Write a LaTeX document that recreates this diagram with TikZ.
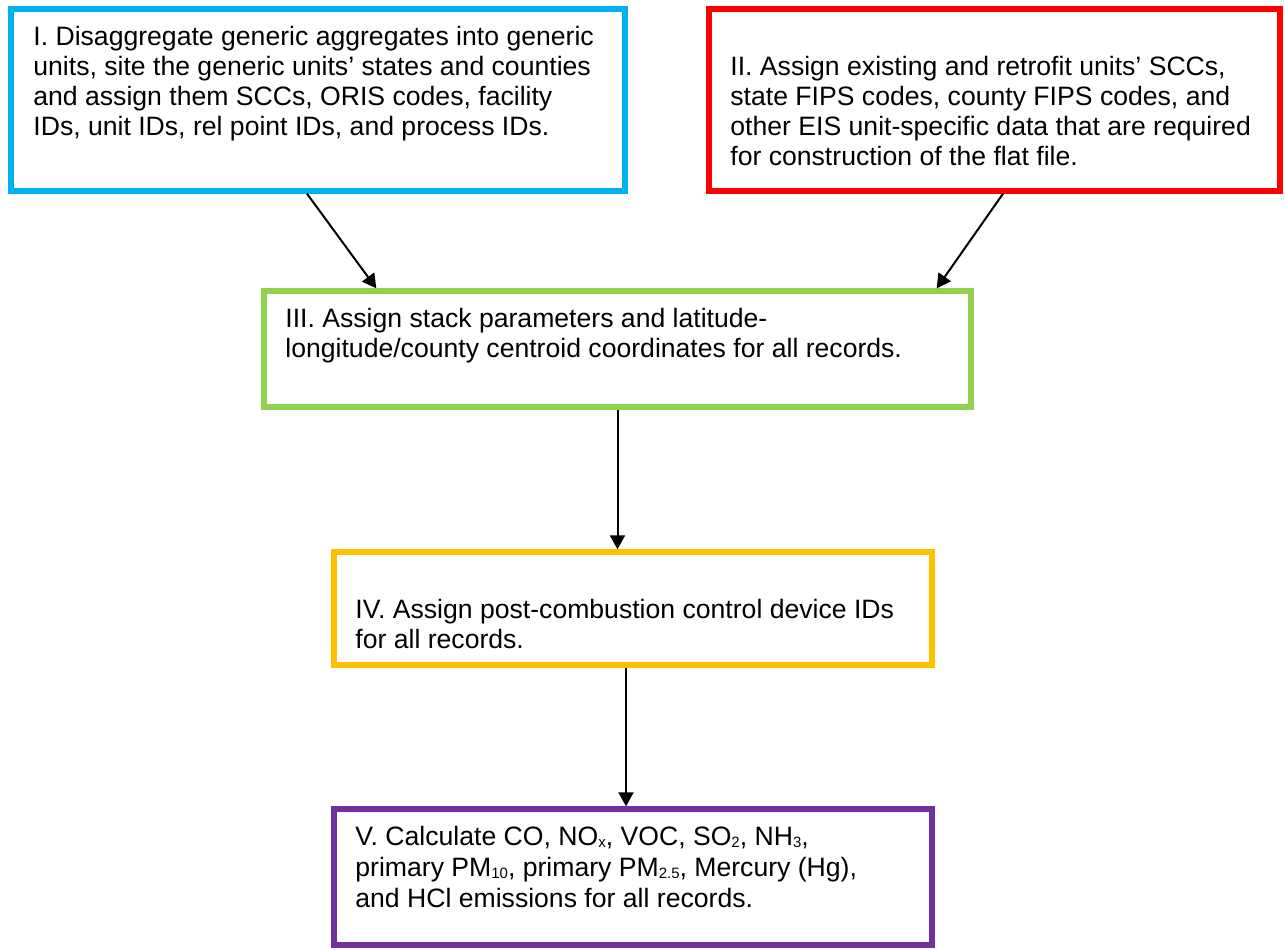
\documentclass[tikz,border=0pt]{standalone}
\usepackage{fontspec}
\setmainfont{Liberation Sans}
\usetikzlibrary{arrows.meta}

\definecolor{stepblue}{HTML}{00B0F0}
\definecolor{stepred}{HTML}{FF0000}
\definecolor{stepgreen}{HTML}{92D050}
\definecolor{stepyellow}{HTML}{FFC000}
\definecolor{steppurple}{HTML}{7030A0}
\newcommand{\chemsub}[1]{\raisebox{-0.8pt}{\fontsize{7.5}{7.5}\selectfont #1}}

\begin{document}
\begin{tikzpicture}[x=0.5pt, y=-0.5pt]
\tikzstyle{stepbox}=[rectangle, draw, line width=2.7pt, inner sep=0pt]
\tikzstyle{steptext}=[anchor=north west, inner sep=0pt, align=left, font=\fontsize{13.3}{15}\selectfont]
\tikzstyle{drawstyle}=[line width=1pt, -{Triangle[length=7pt, width=7.5pt]}]

\useasboundingbox (0,0) rectangle (1285,949);

\node[stepbox, draw=stepblue, minimum width=307pt, minimum height=91pt] (S1) at (318,100) {};
\node[steptext] (S1t) at (33,26) {I. Disaggregate generic aggregates into generic\\
units, site the generic units’ states and counties\\
and assign them SCCs, ORIS codes, facility\\
IDs, unit IDs, rel point IDs, and process IDs.};
\node[stepbox, draw=stepred, minimum width=285.5pt, minimum height=91pt] (S2) at (994.5,100) {};
\node[steptext] (S2t) at (730,56) {II. Assign existing and retrofit units’ SCCs,\\
state FIPS codes, county FIPS codes, and\\
other EIS unit-specific data that are required\\
for construction of the flat file.};
\node[stepbox, draw=stepgreen, minimum width=353.5pt, minimum height=58pt] (S3) at (617.5,349) {};
\node[steptext] (S3t) at (285,308) {III. Assign stack parameters and latitude-\\
longitude/county centroid coordinates for all records.};
\node[stepbox, draw=stepyellow, minimum width=299pt, minimum height=56.5pt] (S4) at (633,608.5) {};
\node[steptext] (S4t) at (355,599) {IV. Assign post-combustion control device IDs\\
for all records.};
\node[stepbox, draw=steppurple, minimum width=299pt, minimum height=68pt] (S5) at (633,877) {};
\node[steptext, font=\fontsize{13.3}{15.5}\selectfont] (S5t) at (355,826) {V. Calculate CO, NO\chemsub{x}, VOC, SO\chemsub{2}, NH\chemsub{3},\\
primary PM\chemsub{10}, primary PM\chemsub{2.5}, Mercury (Hg),\\
and HCl emissions for all records.};

\draw[drawstyle] ([xshift=-5.5pt]S1.south) -- ([xshift=57.5pt]S3.north west);
\draw[drawstyle] ([xshift=4.25pt]S2.south) -- ([xshift=-18.5pt]S3.north east);
\draw[drawstyle] (S3.south) -- (S3.south |- S4.north);
\draw[drawstyle] ([xshift=-3.5pt]S4.south) -- ([xshift=-3.5pt]S5.north);
\end{tikzpicture}
\end{document}
